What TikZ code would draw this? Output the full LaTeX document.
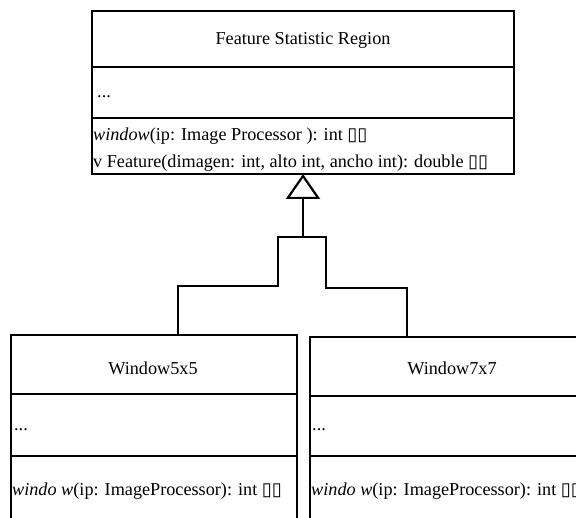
\documentclass[tikz,border=0pt]{standalone}
\usepackage{fontspec}
\setmainfont{Liberation Serif}
\newfontfamily\glyphfont{DejaVu Sans}
\usetikzlibrary{arrows.meta}
\newcommand\emptypair{{\glyphfont ▯▯}}
\begin{document}
\begin{tikzpicture}[x=1pt,y=-1pt,
  compartment/.style={draw=black, line width=2.4pt, rectangle, inner sep=0pt, outer sep=0pt, anchor=north west},
  txt/.style={inner sep=0pt, font=\fontsize{18.2}{21}\selectfont},
  member/.style={txt, anchor=west},
  link/.style={line width=2.2pt, line join=miter}]
\useasboundingbox (0,0) rectangle (576,518);
\clip (0,0) rectangle (576,518);

% FeatureStatisticRegion class
\node[compartment, minimum width=422pt, minimum height=56pt] (fsrHead) at (92,11) {};
\node[compartment, minimum width=422pt, minimum height=51pt] (fsrAttr) at (92,67) {};
\node[compartment, minimum width=422pt, minimum height=56pt] (fsrOps) at (92,118) {};
\node[txt] (fsrTitle) at (303,40) {Feature Statistic Region};
\node[member] (fsrDots) at (97,97) {...};
\node[member] (fsrOp1) at (93,136) {\textit{window}(ip: Image Processor ): int \emptypair};
\node[member] (fsrOp2) at (93,163) {v Feature(dimagen: int, alto int, ancho int): double \emptypair};

% Window5x5 class
\node[compartment, minimum width=286pt, minimum height=59pt] (wfHead) at (11,335) {};
\node[compartment, minimum width=286pt, minimum height=62pt] (wfAttr) at (11,394) {};
\node[compartment, minimum width=286pt, minimum height=90pt] (wfOps) at (11,456) {};
\node[txt] (wfTitle) at (153,368) {Window5x5};
\node[member] (wfDots) at (14,430) {...};
\node[member] (wfOp) at (12,491) {\textit{windo w}(ip: ImageProcessor): int \emptypair};

% Window7x7 class
\node[compartment, minimum width=284pt, minimum height=59pt] (wsHead) at (310,337) {};
\node[compartment, minimum width=284pt, minimum height=60pt] (wsAttr) at (310,396) {};
\node[compartment, minimum width=284pt, minimum height=90pt] (wsOps) at (310,456) {};
\node[txt] (wsTitle) at (452,368) {Window7x7};
\node[member] (wsDots) at (312,430) {...};
\node[member] (wsOp) at (311,491) {\textit{windo w}(ip: ImageProcessor): int \emptypair};

% generalization tree
\coordinate (hub) at (303,237);
\coordinate (wfIn) at (178,335);
\coordinate (wsIn) at (407,337);
\draw[link] (wfIn) |- (278,286) |- (hub);
\draw[link] (wsIn) |- (326,288) |- (hub);
\draw[link, -{Triangle[open, length=25pt, width=34pt, line width=2.2pt]}] (hub) -- (fsrOps.south);
\end{tikzpicture}
\end{document}
